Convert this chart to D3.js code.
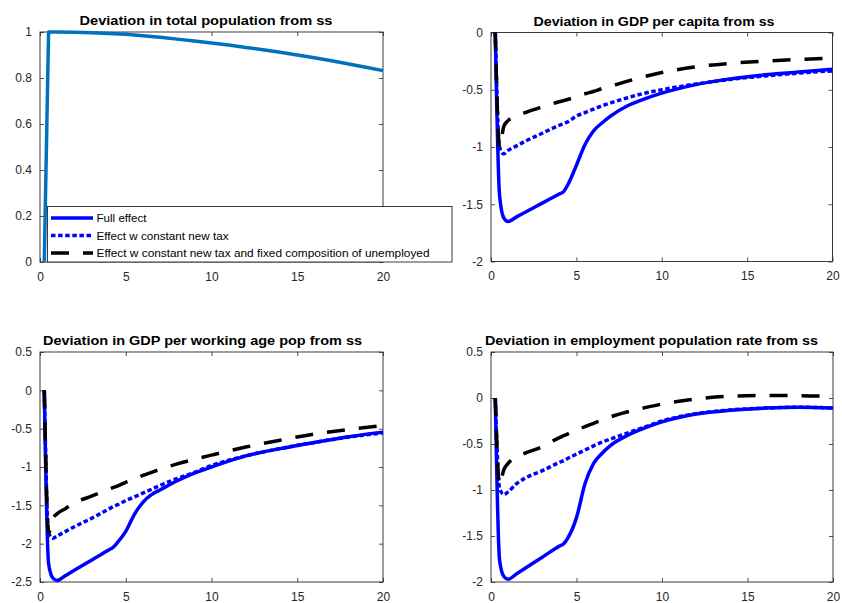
<!DOCTYPE html>
<html>
<head>
<meta charset="utf-8">
<script src="https://cdn.jsdelivr.net/npm/d3@7"></script>
<style>
  html, body { margin: 0; padding: 0; background: #fff; }
  svg { display: block; font-family: "Liberation Sans", Arial, sans-serif; }
</style>
</head>
<body>
<svg id="chart" width="842" height="603"></svg>
<script>
// Horizon in years (quarterly start, coarser later)
const years = [0.25, 0.5, 0.75, 1, 1.5, 2, 3, 4, 4.25, 4.5, 5, 5.5, 6, 6.5, 7, 8, 9, 10, 12, 14, 16, 18, 20];
const popYears = [0.25, 0.5, 1, 2, 3, 4, 5, 6, 7, 8, 9, 10, 11, 12, 13, 14, 15, 16, 17, 18, 19, 20];

// Deviation in total population from steady state
const popDev = [0, 1.0, 1.0, 0.999, 0.997, 0.994, 0.99, 0.984, 0.977, 0.969, 0.961, 0.952, 0.943, 0.933, 0.923, 0.912, 0.90, 0.888, 0.875, 0.861, 0.847, 0.832];

// Deviation in GDP per capita
const gdpPcFull  = [0, -1.42, -1.62, -1.65, -1.61, -1.57, -1.49, -1.41, -1.39, -1.33, -1.16, -0.98, -0.86, -0.79, -0.73, -0.64, -0.58, -0.53, -0.455, -0.405, -0.37, -0.345, -0.32];
const gdpPcTax   = [0, -1.0, -1.06, -1.03, -0.99, -0.95, -0.88, -0.81, -0.795, -0.78, -0.73, -0.70, -0.67, -0.64, -0.615, -0.57, -0.53, -0.50, -0.45, -0.41, -0.38, -0.355, -0.335];
const gdpPcFixed = [0, -1.0, -0.82, -0.77, -0.73, -0.70, -0.65, -0.605, -0.595, -0.585, -0.56, -0.535, -0.515, -0.49, -0.47, -0.425, -0.385, -0.35, -0.30, -0.27, -0.25, -0.235, -0.225];

// Deviation in GDP per working age population
const gdpWaFull  = [0, -2.26, -2.45, -2.48, -2.414, -2.348, -2.216, -2.084, -2.05, -1.99, -1.84, -1.62, -1.46, -1.36, -1.30, -1.18, -1.08, -1.0, -0.855, -0.76, -0.68, -0.605, -0.545];
const gdpWaTax   = [0, -1.86, -1.93, -1.90, -1.84, -1.78, -1.67, -1.55, -1.52, -1.495, -1.44, -1.39, -1.34, -1.29, -1.24, -1.15, -1.07, -0.98, -0.855, -0.76, -0.68, -0.61, -0.555];
const gdpWaFixed = [0, -1.86, -1.67, -1.61, -1.54, -1.47, -1.38, -1.29, -1.27, -1.25, -1.20, -1.16, -1.11, -1.07, -1.03, -0.96, -0.90, -0.845, -0.74, -0.65, -0.57, -0.51, -0.46];

// Deviation in employment to population rate
const empFull  = [0, -1.76, -1.94, -1.97, -1.91, -1.85, -1.73, -1.61, -1.585, -1.52, -1.30, -0.93, -0.71, -0.60, -0.515, -0.405, -0.325, -0.26, -0.175, -0.133, -0.11, -0.10, -0.11];
const empTax   = [0, -0.98, -1.05, -1.02, -0.93, -0.87, -0.79, -0.70, -0.68, -0.655, -0.61, -0.565, -0.52, -0.48, -0.445, -0.38, -0.315, -0.25, -0.17, -0.13, -0.11, -0.10, -0.11];
const empFixed = [0, -0.94, -0.78, -0.71, -0.64, -0.60, -0.53, -0.43, -0.41, -0.39, -0.35, -0.31, -0.275, -0.24, -0.205, -0.15, -0.105, -0.065, -0.01, 0.02, 0.027, 0.026, 0.016];

const xTicks = [0, 5, 10, 15, 20];
const legendLabels = [
  "Full effect",
  "Effect w constant new tax",
  "Effect w constant new tax and fixed composition of unemployed"
];

// Line styles for the three scenarios
const styles = {
  full:  { color: "#0000ff", dash: null },
  tax:   { color: "#0000ff", dash: "4.5,2.6" },
  fixed: { color: "#000000", dash: "18,14" }
};

const svg = d3.select("#chart");
const axisColor = "#262626";
const fmt = d => String(+d.toFixed(2));

function panel(cfg) {
  const x = d3.scaleLinear().domain([0, 20]).range([cfg.left, cfg.right]);
  const y = d3.scaleLinear().domain(cfg.yDomain).range([cfg.bottom, cfg.top]);
  const g = svg.append("g");

  // Left axis with labels, ticks pointing inward
  g.append("g").attr("transform", `translate(${cfg.left},0)`)
    .call(d3.axisLeft(y).tickValues(cfg.yTicks).tickFormat(fmt).tickSizeInner(-4).tickSizeOuter(0).tickPadding(8))
    .call(a => a.select(".domain").remove());
  // Right axis ticks only
  g.append("g").attr("transform", `translate(${cfg.right},0)`)
    .call(d3.axisRight(y).tickValues(cfg.yTicks).tickFormat("").tickSizeInner(-4).tickSizeOuter(0))
    .call(a => a.select(".domain").remove());
  // Bottom axis
  g.append("g").attr("transform", `translate(0,${cfg.bottom})`)
    .call(d3.axisBottom(x).tickValues(xTicks).tickFormat(fmt).tickSizeInner(-4).tickSizeOuter(0).tickPadding(10))
    .call(a => a.select(".domain").remove());
  // Top axis ticks only
  g.append("g").attr("transform", `translate(0,${cfg.top})`)
    .call(d3.axisTop(x).tickValues(xTicks).tickFormat("").tickSizeInner(-4).tickSizeOuter(0))
    .call(a => a.select(".domain").remove());

  g.selectAll(".tick line").attr("stroke", axisColor).attr("stroke-width", 0.8);
  g.selectAll(".tick text").attr("fill", axisColor).style("font-size", "12px")
    .style("font-family", '"Liberation Sans", Arial, sans-serif');

  // Box
  g.append("rect")
    .attr("x", cfg.left).attr("y", cfg.top)
    .attr("width", cfg.right - cfg.left).attr("height", cfg.bottom - cfg.top)
    .attr("fill", "none").attr("stroke", axisColor).attr("stroke-width", 0.9);

  // Title
  g.append("text")
    .attr("x", cfg.titleX).attr("y", cfg.top - 7)
    .attr("text-anchor", "middle")
    .attr("textLength", cfg.titleW).attr("lengthAdjust", "spacingAndGlyphs")
    .style("font-size", "12.5px").style("font-weight", "bold").attr("fill", "#000")
    .text(cfg.title);

  cfg.series.forEach(s => {
    const line = d3.line().x(d => x(d[0])).y(d => y(d[1])).curve(s.curve || d3.curveMonotoneX);
    g.append("path")
      .datum(s.xs.map((t, i) => [t, s.values[i]]))
      .attr("d", line)
      .attr("fill", "none")
      .attr("stroke", s.color)
      .attr("stroke-width", 3.5)
      .attr("stroke-linejoin", "round")
      .attr("stroke-dasharray", s.dash);
  });
  return { x, y, g };
}

function scenarioSeries(full, tax, fixed) {
  return [
    { xs: years, values: full,  color: styles.full.color,  dash: styles.full.dash },
    { xs: years, values: tax,   color: styles.tax.color,   dash: styles.tax.dash },
    { xs: years, values: fixed, color: styles.fixed.color, dash: styles.fixed.dash }
  ];
}

panel({
  title: "Deviation in total population from ss", titleX: 206, titleW: 253,
  left: 40, right: 383, top: 32, bottom: 262,
  yDomain: [0, 1], yTicks: [0, 0.2, 0.4, 0.6, 0.8, 1],
  series: [{ xs: popYears, values: popDev, color: "#0072bd", dash: null, curve: d3.curveLinear }]
});

panel({
  title: "Deviation in GDP per capita from ss", titleX: 654, titleW: 241,
  left: 491, right: 832.5, top: 32.5, bottom: 261.5,
  yDomain: [-2, 0], yTicks: [-2, -1.5, -1, -0.5, 0],
  series: scenarioSeries(gdpPcFull, gdpPcTax, gdpPcFixed)
});

panel({
  title: "Deviation in GDP per working age pop from ss", titleX: 202.5, titleW: 319,
  left: 40, right: 383, top: 352, bottom: 582,
  yDomain: [-2.5, 0.5], yTicks: [-2.5, -2, -1.5, -1, -0.5, 0, 0.5],
  series: scenarioSeries(gdpWaFull, gdpWaTax, gdpWaFixed)
});

panel({
  title: "Deviation in employment population rate from ss", titleX: 651.5, titleW: 333,
  left: 491, right: 833, top: 352, bottom: 582,
  yDomain: [-2, 0.5], yTicks: [-2, -1.5, -1, -0.5, 0, 0.5],
  series: scenarioSeries(empFull, empTax, empFixed)
});

// Legend (drawn over the population panel)
const legend = svg.append("g");
legend.append("rect")
  .attr("x", 47.5).attr("y", 206.5).attr("width", 404.5).attr("height", 55.5)
  .attr("fill", "#fff").attr("stroke", axisColor).attr("stroke-width", 0.9);
const legendStyles = [styles.full, styles.tax, styles.fixed];
const legendWidths = [50, 132, 333];
legendLabels.forEach((label, i) => {
  const cy = 218 + i * 17.5;
  legend.append("line")
    .attr("x1", 51).attr("x2", 93).attr("y1", cy).attr("y2", cy)
    .attr("stroke", legendStyles[i].color).attr("stroke-width", 3.5)
    .attr("stroke-dasharray", legendStyles[i].dash);
  legend.append("text")
    .attr("x", 96.5).attr("y", cy + 4)
    .attr("textLength", legendWidths[i]).attr("lengthAdjust", "spacingAndGlyphs")
    .style("font-size", "11.5px").attr("fill", "#000")
    .text(label);
});
</script>
</body>
</html>
